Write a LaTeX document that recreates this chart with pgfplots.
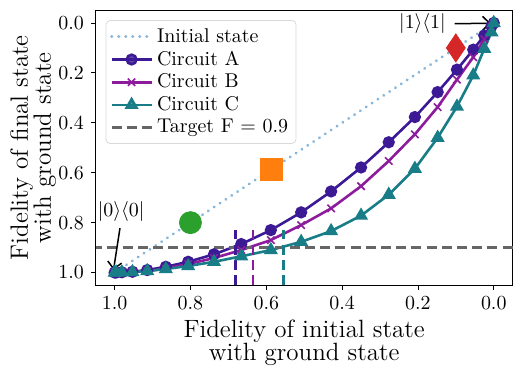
\documentclass[border=0pt]{standalone}
\usepackage{pgfplots}
\pgfplotsset{compat=1.18}
\usepackage{pgfplotstable}
\usetikzlibrary{arrows.meta}
\definecolor{cA}{HTML}{3C1A96}
\definecolor{cB}{HTML}{8C1C9C}
\definecolor{cC}{HTML}{187D87}
\definecolor{initc}{HTML}{85B5DA}
\definecolor{tgray}{HTML}{666666}
\definecolor{tgreen}{HTML}{2CA02C}
\definecolor{torange}{HTML}{FF7F0E}
\definecolor{tred}{HTML}{D62728}

\pgfplotstableread{
x A B C
1.000 1.000 1.000 1.000
0.996 1.000 1.000 1.000
0.981 0.999 0.999 0.999
0.953 0.997 0.998 0.998
0.914 0.990 0.994 0.994
0.865 0.977 0.984 0.986
0.806 0.957 0.966 0.974
0.738 0.927 0.942 0.957
0.666 0.886 0.910 0.935
0.588 0.830 0.870 0.910
0.508 0.759 0.810 0.877
0.429 0.675 0.743 0.834
0.350 0.579 0.654 0.772
0.277 0.478 0.553 0.688
0.208 0.377 0.446 0.584
0.148 0.277 0.337 0.460
0.097 0.187 0.227 0.335
0.054 0.107 0.137 0.210
0.025 0.050 0.065 0.103
0.006 0.013 0.017 0.037
0.000 0.000 0.000 0.000
}\circuits

\begin{document}
\begin{tikzpicture}
\begin{axis}[
  scale only axis, width=208.5bp, height=137.25bp,
  x dir=reverse, y dir=reverse,
  xmin=-0.05, xmax=1.05, ymin=-0.05, ymax=1.05,
  xtick={0,0.2,0.4,0.6,0.8,1.0}, ytick={0,0.2,0.4,0.6,0.8,1.0},
  tick align=outside, tick pos=left,
  major tick length=2.45bp,
  every tick/.style={black, line width=0.4pt},
  axis line style={line width=0.5pt},
  tick label style={/pgf/number format/.cd, fixed, fixed zerofill, precision=1},
  xlabel={Fidelity of initial state\\with ground state},
  ylabel={Fidelity of final state\\with ground state},
  xlabel style={overlay, align=center, inner sep=0pt, font=\fontsize{12.5bp}{11.5bp}\selectfont,
    at={(axis description cs:0.5,-0.124)}, anchor=north},
  ylabel style={overlay, align=center, inner sep=0pt, font=\fontsize{12.5bp}{11.5bp}\selectfont,
    at={(axis description cs:-0.2055,0.5)}, anchor=north, rotate=0},
  clip=false,
  legend style={at={(0.024,0.965)}, anchor=north west, draw=black!15,
    rounded corners=2bp, fill=white, fill opacity=0.8, text opacity=1,
    row sep=-1.2pt, inner sep=2pt, cells={anchor=west}},
  legend image code/.code={\draw[mark repeat=2, mark phase=2, #1] plot coordinates {(0bp,0bp) (10bp,0bp) (20bp,0bp)};},
]
% highlighted points (drawn below the dotted line)
\addplot[only marks, mark=*, mark size=5.5bp, color=tgreen, forget plot] coordinates {(0.8,0.8)};
\addplot[only marks, mark=square*, mark size=5.5bp, color=torange, forget plot] coordinates {(0.586,0.586)};
\addplot[only marks, mark=diamond*, mark size=7bp, color=tred, mark options={xscale=0.9}, forget plot] coordinates {(0.1,0.1)};

\addplot[initc, line width=1.4bp, line cap=round, dash pattern=on 0.2bp off 3.3bp] coordinates {(1,1) (0,0)};
\addlegendentry{Initial state}
\addplot[cA, line width=1.3bp, mark=*, mark size=2.4bp] table[x=x, y=A] {\circuits};
\addlegendentry{Circuit A}
\addplot[cB, line width=1.3bp, mark=x, mark size=2.6bp, mark options={line width=0.8bp}] table[x=x, y=B] {\circuits};
\addlegendentry{Circuit B}
\addplot[cC, line width=1.3bp, mark=triangle*, mark size=2.8bp] table[x=x, y=C] {\circuits};
\addlegendentry{Circuit C}
\addplot[tgray, line width=1.5bp, dash pattern=on 5bp off 2.6bp] coordinates {(-0.05,0.9) (1.05,0.9)};
\addlegendentry{Target F = 0.9}

\addplot[cA, line width=1.3bp, dash pattern=on 5bp off 2.6bp, forget plot] coordinates {(0.681,1.05) (0.681,0.83)};
\addplot[cB, line width=1.3bp, dash pattern=on 5bp off 2.6bp, forget plot] coordinates {(0.635,1.05) (0.635,0.83)};
\addplot[cC, line width=1.3bp, dash pattern=on 5bp off 2.6bp, forget plot] coordinates {(0.555,1.05) (0.555,0.83)};

\node at (axis cs:0.983,0.757) {$|0\rangle\langle 0|$};
\draw[line width=0.75bp, -{Straight Barb[length=3.5bp,width=7bp]}] (axis cs:0.986,0.822) -- (axis cs:1.003,0.99);
\node at (axis cs:0.188,0.003) {$|1\rangle\langle 1|$};
\draw[line width=0.75bp, -{Straight Barb[length=3.5bp,width=7bp]}] (axis cs:0.103,0.003) -- (axis cs:0.008,0.001);
\end{axis}
\path (current axis.south west) ++(-47.85bp,-43.5bp) coordinate (bbA);
\path (current axis.north east) ++(4.65bp,5.25bp) coordinate (bbB);
\path (bbA) rectangle (bbB);
\end{tikzpicture}
\end{document}
